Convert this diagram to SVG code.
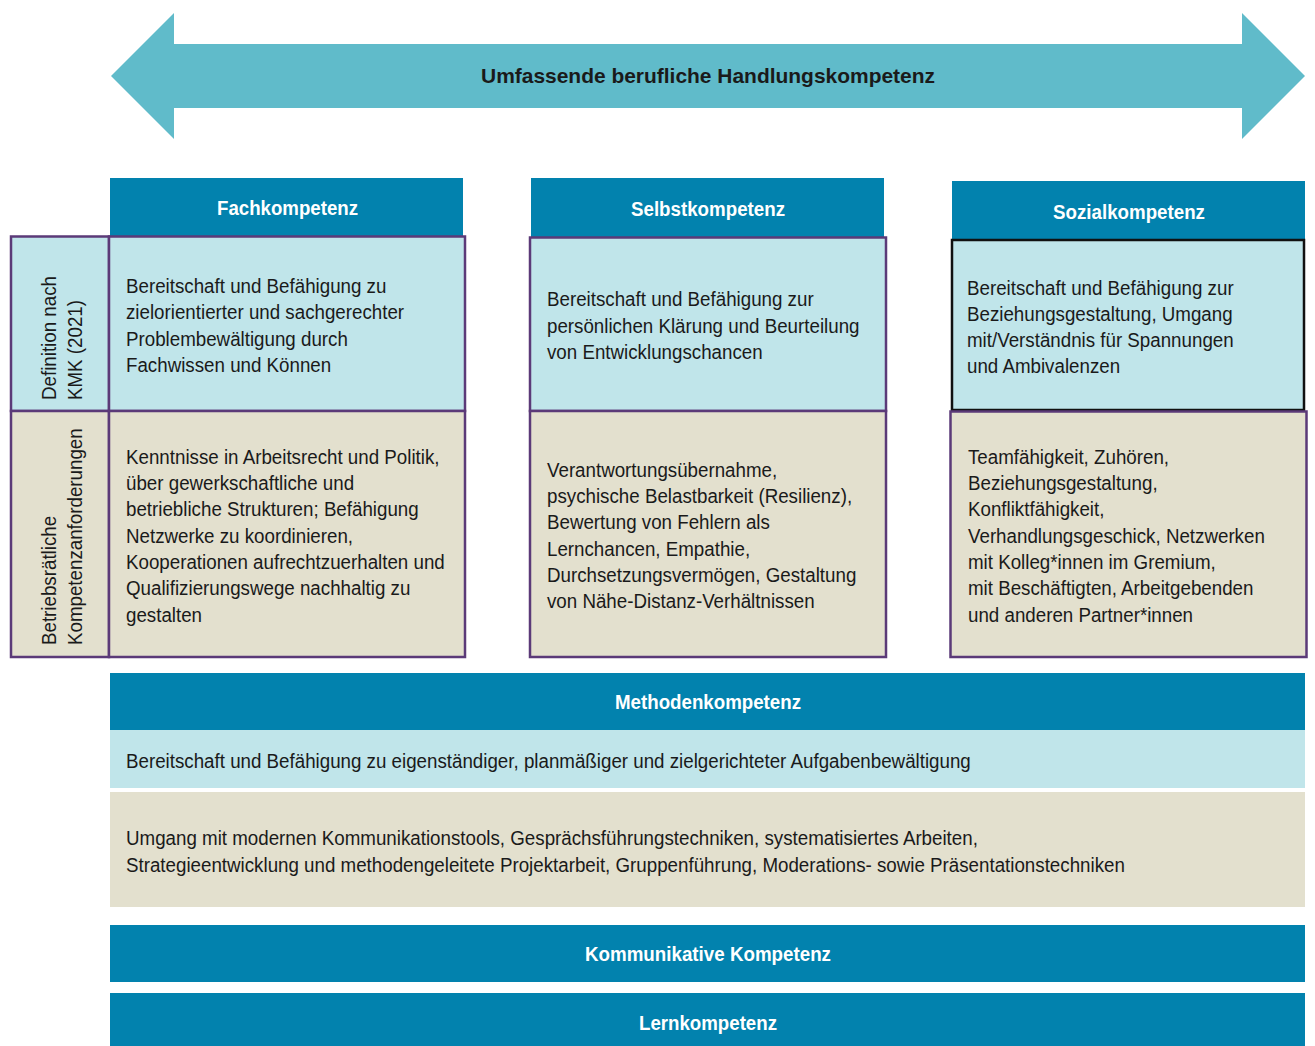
<svg xmlns="http://www.w3.org/2000/svg" width="1315" height="1046" viewBox="0 0 1315 1046">
<style>
.t{font-family:"Liberation Sans",Arial,sans-serif;font-size:21px;fill:#1a1a1a}
.h{font-family:"Liberation Sans",Arial,sans-serif;font-size:20px;font-weight:bold;fill:#ffffff}
.hd{fill:#0282ae}
.lb{fill:#c0e5ea}
.bg{fill:#e3e0ce}
.pb{stroke:#5b3a78;stroke-width:2.5}
</style>
<rect width="1315" height="1046" fill="#ffffff"/>
<g id="arrow">
<polygon points="111,76 174,13 174,44 1242,44 1242,13 1305,76 1242,139 1242,108 174,108 174,139" fill="#60bbca"/>
<text class="h" x="708" y="83" text-anchor="middle" textLength="454" lengthAdjust="spacingAndGlyphs" style="fill:#1a1a1a;font-size:21px">Umfassende berufliche Handlungskompetenz</text>
</g>
<g id="row-labels">
<rect class="lb pb" x="11" y="236.5" width="98" height="174.5"/>
<text class="t" transform="translate(56,400) rotate(-90) scale(0.893,1)">Definition nach</text>
<text class="t" transform="translate(82,400) rotate(-90) scale(0.893,1)">KMK (2021)</text>
<rect class="bg pb" x="11" y="411" width="98" height="246"/>
<text class="t" transform="translate(56,645) rotate(-90) scale(0.893,1)">Betriebsrätliche</text>
<text class="t" transform="translate(82,645) rotate(-90) scale(0.893,1)">Kompetenzanforderungen</text>
</g>
<g id="fach">
<rect class="hd" x="110" y="178" width="353" height="58"/>
<text class="h" x="287.5" y="215" text-anchor="middle" textLength="141" lengthAdjust="spacingAndGlyphs">Fachkompetenz</text>
<rect class="lb pb" x="109" y="236.5" width="356" height="174.5"/>
<g transform="translate(126,0) scale(0.893,1)">
<text class="t" x="0" y="293">Bereitschaft und Befähigung zu</text>
<text class="t" x="0" y="319">zielorientierter und sachgerechter</text>
<text class="t" x="0" y="346">Problembewältigung durch</text>
<text class="t" x="0" y="372">Fachwissen und Können</text>
</g>
<rect class="bg pb" x="109" y="411" width="356" height="246"/>
<g transform="translate(126,0) scale(0.893,1)">
<text class="t" x="0" y="464">Kenntnisse in Arbeitsrecht und Politik,</text>
<text class="t" x="0" y="490">über gewerkschaftliche und</text>
<text class="t" x="0" y="516">betriebliche Strukturen; Befähigung</text>
<text class="t" x="0" y="543">Netzwerke zu koordinieren,</text>
<text class="t" x="0" y="569">Kooperationen aufrechtzuerhalten und</text>
<text class="t" x="0" y="595">Qualifizierungswege nachhaltig zu</text>
<text class="t" x="0" y="622">gestalten</text>
</g>
</g>
<g id="selbst">
<rect class="hd" x="531" y="178" width="353" height="59"/>
<text class="h" x="708" y="216" text-anchor="middle" textLength="154" lengthAdjust="spacingAndGlyphs">Selbstkompetenz</text>
<rect class="lb pb" x="530" y="237.5" width="356" height="173.5"/>
<g transform="translate(547,0) scale(0.893,1)">
<text class="t" x="0" y="306">Bereitschaft und Befähigung zur</text>
<text class="t" x="0" y="333">persönlichen Klärung und Beurteilung</text>
<text class="t" x="0" y="359">von Entwicklungschancen</text>
</g>
<rect class="bg pb" x="530" y="411" width="356" height="246"/>
<g transform="translate(547,0) scale(0.893,1)">
<text class="t" x="0" y="477">Verantwortungsübernahme,</text>
<text class="t" x="0" y="503">psychische Belastbarkeit (Resilienz),</text>
<text class="t" x="0" y="529">Bewertung von Fehlern als</text>
<text class="t" x="0" y="556">Lernchancen, Empathie,</text>
<text class="t" x="0" y="582">Durchsetzungsvermögen, Gestaltung</text>
<text class="t" x="0" y="608">von Nähe-Distanz-Verhältnissen</text>
</g>
</g>
<g id="sozial">
<rect class="hd" x="952" y="181" width="353" height="59"/>
<text class="h" x="1129" y="219" text-anchor="middle" textLength="152" lengthAdjust="spacingAndGlyphs">Sozialkompetenz</text>
<rect class="lb" x="952" y="240" width="352" height="170" stroke="#111111" stroke-width="2.5"/>
<g transform="translate(967,0) scale(0.893,1)">
<text class="t" x="0" y="295">Bereitschaft und Befähigung zur</text>
<text class="t" x="0" y="321">Beziehungsgestaltung, Umgang</text>
<text class="t" x="0" y="347">mit/Verständnis für Spannungen</text>
<text class="t" x="0" y="373">und Ambivalenzen</text>
</g>
<rect class="bg pb" x="950.5" y="411.5" width="356" height="245.5"/>
<g transform="translate(968,0) scale(0.893,1)">
<text class="t" x="0" y="464">Teamfähigkeit, Zuhören,</text>
<text class="t" x="0" y="490">Beziehungsgestaltung,</text>
<text class="t" x="0" y="516">Konfliktfähigkeit,</text>
<text class="t" x="0" y="543">Verhandlungsgeschick, Netzwerken</text>
<text class="t" x="0" y="569">mit Kolleg*innen im Gremium,</text>
<text class="t" x="0" y="595">mit Beschäftigten, Arbeitgebenden</text>
<text class="t" x="0" y="622">und anderen Partner*innen</text>
</g>
</g>
<g id="methoden">
<rect class="hd" x="110" y="673" width="1195" height="57"/>
<text class="h" x="708" y="709" text-anchor="middle" textLength="186" lengthAdjust="spacingAndGlyphs">Methodenkompetenz</text>
<rect class="lb" x="110" y="730" width="1195" height="58"/>
<g transform="translate(126,0) scale(0.893,1)">
<text class="t" x="0" y="768">Bereitschaft und Befähigung zu eigenständiger, planmäßiger und zielgerichteter Aufgabenbewältigung</text>
</g>
<rect class="bg" x="110" y="792" width="1195" height="115"/>
<g transform="translate(126,0) scale(0.893,1)">
<text class="t" x="0" y="845">Umgang mit modernen Kommunikationstools, Gesprächsführungstechniken, systematisiertes Arbeiten,</text>
<text class="t" x="0" y="872">Strategieentwicklung und methodengeleitete Projektarbeit, Gruppenführung, Moderations- sowie Präsentationstechniken</text>
</g>
</g>
<g id="kommunikativ">
<rect class="hd" x="110" y="925" width="1195" height="57"/>
<text class="h" x="708" y="961" text-anchor="middle" textLength="246" lengthAdjust="spacingAndGlyphs">Kommunikative Kompetenz</text>
</g>
<g id="lern">
<rect class="hd" x="110" y="993" width="1195" height="53"/>
<text class="h" x="708" y="1030" text-anchor="middle" textLength="138" lengthAdjust="spacingAndGlyphs">Lernkompetenz</text>
</g>
<g id="connectors"/>
</svg>
